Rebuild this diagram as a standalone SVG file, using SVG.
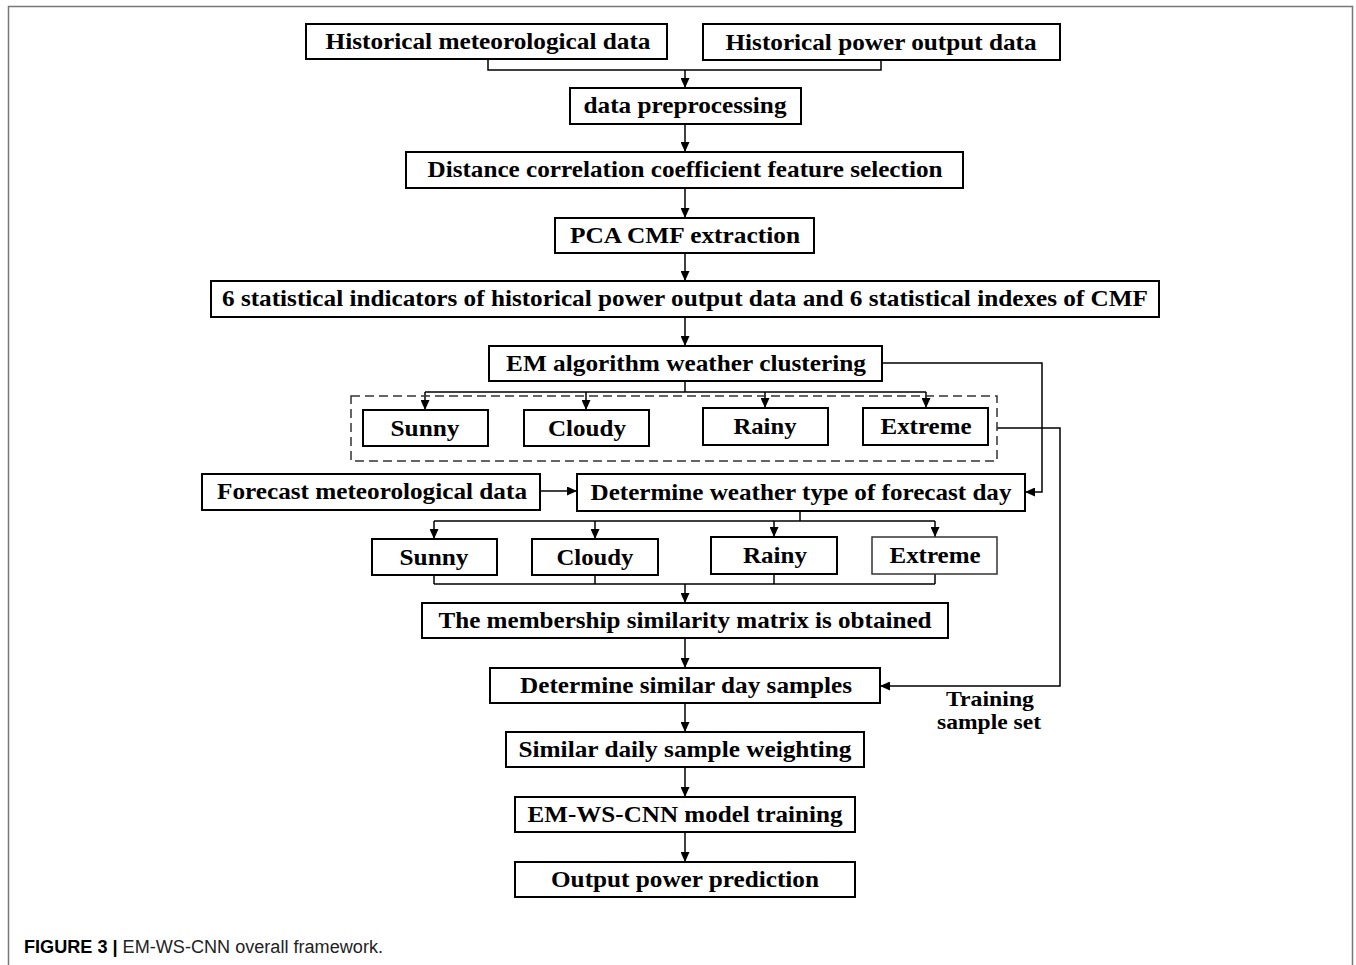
<svg xmlns="http://www.w3.org/2000/svg" width="1356" height="965" viewBox="0 0 1356 965">
<defs>
<marker id="arr" markerUnits="userSpaceOnUse" markerWidth="10" markerHeight="9" refX="10" refY="4.5" orient="auto">
<path d="M0,0 L10,4.5 L0,9 z" fill="#000"/>
</marker>
<style>
.box{fill:#fff;stroke:#000;stroke-width:2}
.t{font-family:"Liberation Serif","Times New Roman",serif;font-weight:bold;font-size:24px;fill:#000;text-anchor:middle}
.s{font-family:"Liberation Serif","Times New Roman",serif;font-weight:bold;font-size:21px;fill:#000;text-anchor:middle}
.c{fill:none;stroke:#000;stroke-width:1.5}
.a{fill:none;stroke:#000;stroke-width:1.5;marker-end:url(#arr)}
.cap{font-family:"Liberation Sans",Arial,sans-serif;font-size:18px;fill:#222}
</style>
</defs>
<rect x="0" y="0" width="1356" height="965" fill="#fff"/>
<path d="M8.5,968 V6.5 H1352.5 V968" fill="none" stroke="#777" stroke-width="1.5"/>

<g id="connectors">
<path class="c" d="M488,59 V70 H881 V60"/>
<path class="a" d="M685,70 V88"/>
<path class="a" d="M685,124 V152"/>
<path class="a" d="M685,188 V218"/>
<path class="a" d="M685,253 V281"/>
<path class="a" d="M685,317 V346"/>
<path class="c" d="M685,381 V392 M425,392 H926"/>
<path class="a" d="M425,392 V410"/>
<path class="a" d="M586,392 V410"/>
<path class="a" d="M765,392 V408"/>
<path class="a" d="M926,392 V408"/>
<path class="a" d="M882,363 H1042 V492 H1025"/>
<path class="a" d="M997,428 H1060 V686 H880"/>
<path class="a" d="M540,491 H577"/>
<path class="c" d="M800,511 V521 M434,521 H935"/>
<path class="a" d="M434,521 V539"/>
<path class="a" d="M595,521 V539"/>
<path class="a" d="M774,521 V537"/>
<path class="a" d="M935,521 V537"/>
<path class="c" d="M434,575 V584 M595,575 V584 M774,574 V584 M935,574 V584 M434,584 H935"/>
<path class="a" d="M685,584 V603"/>
<path class="a" d="M685,638 V668"/>
<path class="a" d="M685,703 V732"/>
<path class="a" d="M685,767 V797"/>
<path class="a" d="M685,832 V862"/>
</g>

<g id="hist-met"><rect class="box" x="306" y="24" width="361" height="35"/><text class="t" x="488" y="49" textLength="325" lengthAdjust="spacingAndGlyphs">Historical meteorological data</text></g>
<g id="hist-power"><rect class="box" x="703" y="24" width="357" height="36"/><text class="t" x="881" y="50" textLength="311" lengthAdjust="spacingAndGlyphs">Historical power output data</text></g>
<g id="preproc"><rect class="box" x="570" y="88" width="231" height="36"/><text class="t" x="685" y="113" textLength="203" lengthAdjust="spacingAndGlyphs">data preprocessing</text></g>
<g id="dcc"><rect class="box" x="406" y="152" width="557" height="36"/><text class="t" x="685" y="177" textLength="515" lengthAdjust="spacingAndGlyphs">Distance correlation coefficient feature selection</text></g>
<g id="pca"><rect class="box" x="555" y="218" width="259" height="35"/><text class="t" x="685" y="243" textLength="230" lengthAdjust="spacingAndGlyphs">PCA CMF extraction</text></g>
<g id="stats"><rect class="box" x="211" y="281" width="948" height="36"/><text class="t" x="685" y="306" textLength="926" lengthAdjust="spacingAndGlyphs">6 statistical indicators of historical power output data and 6 statistical indexes of CMF</text></g>
<g id="em"><rect class="box" x="489" y="346" width="393" height="35"/><text class="t" x="686" y="371" textLength="360" lengthAdjust="spacingAndGlyphs">EM algorithm weather clustering</text></g>

<g id="cluster-group"><rect x="351" y="396" width="646" height="65" fill="none" stroke="#333" stroke-width="1.5" stroke-dasharray="9,5"/></g>
<g id="c-sunny"><rect class="box" x="363" y="410" width="125" height="36"/><text class="t" x="425" y="436" textLength="69" lengthAdjust="spacingAndGlyphs">Sunny</text></g>
<g id="c-cloudy"><rect class="box" x="524" y="410" width="125" height="36"/><text class="t" x="587" y="436" textLength="78" lengthAdjust="spacingAndGlyphs">Cloudy</text></g>
<g id="c-rainy"><rect class="box" x="703" y="408" width="125" height="37"/><text class="t" x="765" y="434" textLength="63" lengthAdjust="spacingAndGlyphs">Rainy</text></g>
<g id="c-extreme"><rect class="box" x="863" y="408" width="125" height="37"/><text class="t" x="926" y="434" textLength="91" lengthAdjust="spacingAndGlyphs">Extreme</text></g>

<g id="forecast"><rect class="box" x="202" y="474" width="338" height="36"/><text class="t" x="372" y="499" textLength="310" lengthAdjust="spacingAndGlyphs">Forecast meteorological data</text></g>
<g id="determine-type"><rect class="box" x="577" y="474" width="448" height="37"/><text class="t" x="801" y="500" textLength="421" lengthAdjust="spacingAndGlyphs">Determine weather type of forecast day</text></g>

<g id="f-sunny"><rect class="box" x="372" y="539" width="125" height="36"/><text class="t" x="434" y="565" textLength="69" lengthAdjust="spacingAndGlyphs">Sunny</text></g>
<g id="f-cloudy"><rect class="box" x="532" y="539" width="126" height="36"/><text class="t" x="595" y="565" textLength="77" lengthAdjust="spacingAndGlyphs">Cloudy</text></g>
<g id="f-rainy"><rect class="box" x="711" y="537" width="126" height="37"/><text class="t" x="775" y="563" textLength="64" lengthAdjust="spacingAndGlyphs">Rainy</text></g>
<g id="f-extreme"><rect x="872" y="537" width="125" height="37" fill="#fff" stroke="#333" stroke-width="1.5"/><text class="t" x="935" y="563" textLength="91" lengthAdjust="spacingAndGlyphs">Extreme</text></g>

<g id="membership"><rect class="box" x="422" y="603" width="526" height="35"/><text class="t" x="685" y="628" textLength="493" lengthAdjust="spacingAndGlyphs">The membership similarity matrix is obtained</text></g>
<g id="similar-days"><rect class="box" x="490" y="668" width="390" height="35"/><text class="t" x="686" y="693" textLength="332" lengthAdjust="spacingAndGlyphs">Determine similar day samples</text></g>
<g id="weighting"><rect class="box" x="506" y="732" width="358" height="35"/><text class="t" x="685" y="757" textLength="333" lengthAdjust="spacingAndGlyphs">Similar daily sample weighting</text></g>
<g id="training"><rect class="box" x="515" y="797" width="340" height="35"/><text class="t" x="685" y="822" textLength="315" lengthAdjust="spacingAndGlyphs">EM-WS-CNN model training</text></g>
<g id="output"><rect class="box" x="515" y="862" width="340" height="35"/><text class="t" x="685" y="887" textLength="268" lengthAdjust="spacingAndGlyphs">Output power prediction</text></g>

<g id="training-label">
<text class="s" x="990" y="706" textLength="88" lengthAdjust="spacingAndGlyphs">Training</text>
<text class="s" x="989" y="729" textLength="104" lengthAdjust="spacingAndGlyphs">sample set</text>
</g>

<text class="cap" x="24" y="953" textLength="359" lengthAdjust="spacingAndGlyphs"><tspan font-weight="bold" fill="#000">FIGURE 3 |</tspan> EM-WS-CNN overall framework.</text>
</svg>
